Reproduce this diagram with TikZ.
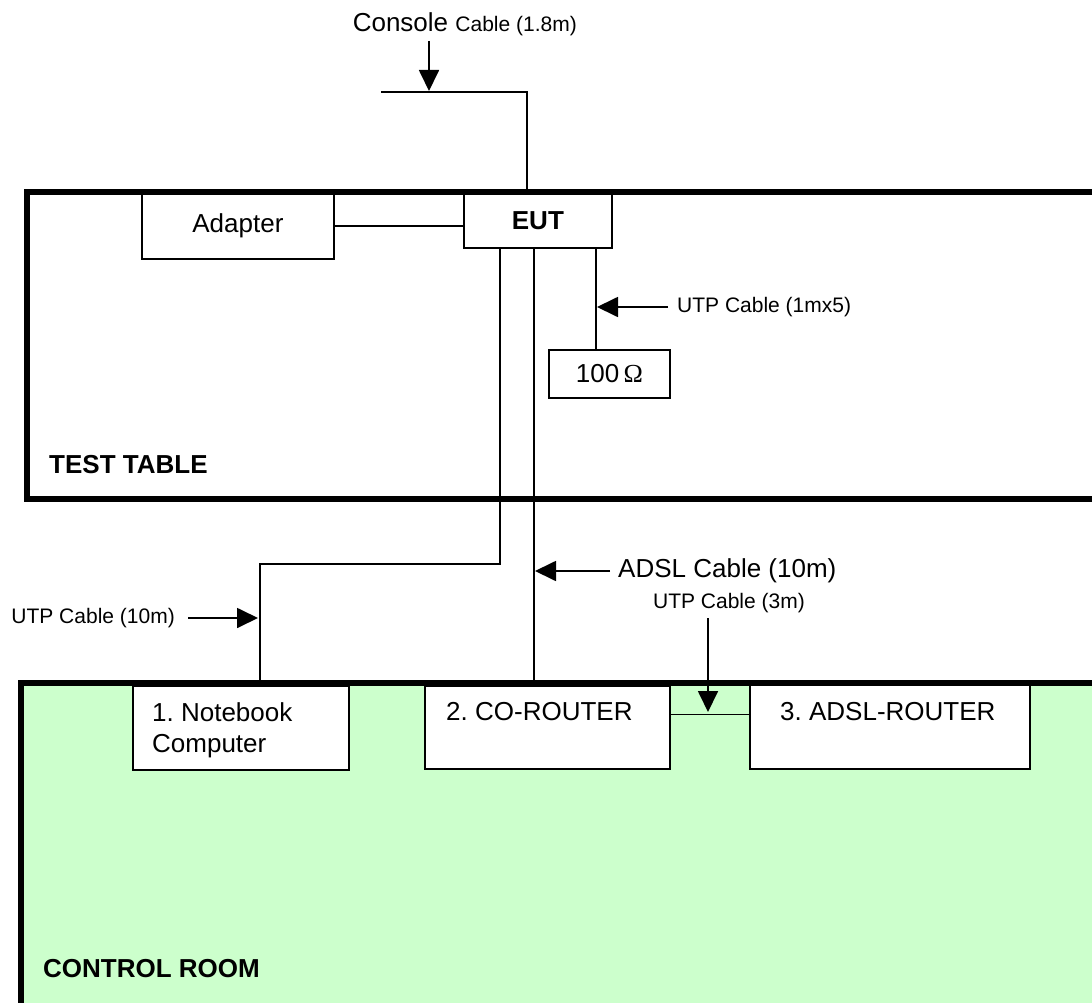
\documentclass[tikz,border=0pt]{standalone}
\usepackage{fontspec}
\setmainfont{Liberation Sans}
\newfontfamily\omegafont{Liberation Serif}
\usetikzlibrary{arrows.meta}
\definecolor{roomgreen}{HTML}{CCFFCC}
\frenchspacing

\newcommand{\labelbig}{\fontsize{26}{31}\selectfont}
\newcommand{\labelsmall}{\fontsize{21}{25}\selectfont}

\tikzset{
  box/.style={draw, fill=white, line width=1.8pt, inner sep=0pt, anchor=north west, font=\labelbig},
  cable/.style={line width=1.8pt},
  frame/.style={line width=5.5pt},
  ptr/.style={line width=1.8pt, -{Triangle[length=21pt,width=20pt]}},
  txt/.style={inner sep=0pt, font=\labelbig},
  lbl/.style={inner sep=0pt, font=\labelsmall},
}

\begin{document}
\begin{tikzpicture}[x=1pt, y=-1pt]
\useasboundingbox (0,0) rectangle (1092,1003);
\clip (0,0) rectangle (1092,1003);

% control room floor
\fill[roomgreen] (21,683) rectangle (1120,1020);

% equipment
\node[box, minimum width=192pt, minimum height=66pt] (adapter) at (141,192) {Adapter};
\node[box, minimum width=148pt, minimum height=55pt, font=\labelbig\bfseries] (eut) at (463,192) {EUT};
\node[box, minimum width=121pt, minimum height=48pt] (ohm) at (548,349) {100\,{\omegafont Ω}};
\node[box, minimum width=216pt, minimum height=84pt] (nb) at (132,685) {};
\node[box, minimum width=245pt, minimum height=83pt] (co) at (424,685) {};
\node[box, minimum width=280pt, minimum height=84pt] (adsl) at (749,684) {};

\node[txt, anchor=north west, align=left] (nbtxt) at ([xshift=20pt, yshift=-17pt]nb.north west) {1. Notebook\\Computer};
\node[txt, anchor=north west] (cotxt) at ([xshift=22pt, yshift=-17pt]co.north west) {2. CO-ROUTER};
\node[txt, anchor=north west] (adsltxt) at ([xshift=31pt, yshift=-18pt]adsl.north west) {3. ADSL-ROUTER};

% tables
\draw[frame] (27,192) rectangle (1120,499);
\draw[frame] (21,683) rectangle (1120,1020);
\node[txt, anchor=base west, font=\labelbig\bfseries] (testtable) at (49,473) {TEST TABLE};
\node[txt, anchor=base west, font=\labelbig\bfseries] (controlroom) at (43,977) {CONTROL ROOM};

% cables
\coordinate (consend) at (381,92);
\draw[cable] (consend) -| ([xshift=-11pt]eut.north);
\draw[cable] (adapter.east) -- (adapter.east -| eut.west);
\draw[cable] ([xshift=-38pt]eut.south) -- ++(0,315) -| ([xshift=19pt]nb.north);
\draw[cable] ([xshift=-4pt]eut.south) -- ([xshift=-4pt]eut.south |- co.north);
\draw[cable] ([xshift=58pt]eut.south) -- ([xshift=58pt]eut.south |- ohm.north);
\draw[cable] ([yshift=13pt]co.east) -- ([yshift=13pt]co.east -| adsl.west);

% cable labels
\node[txt, anchor=base east] (console) at (577,32) {Console {\labelsmall Cable (1.8m)}};
\coordinate (constail) at (429,41);
\coordinate (constip) at (429,91);
\draw[ptr] (constail) -- (constip);

\node[lbl, anchor=west] (utp5) at (677,307) {UTP Cable (1mx5)};
\coordinate (utp5tip) at (597,307);
\draw[ptr] ([xshift=-9pt]utp5.west) -- (utp5tip);

\node[txt, anchor=west] (adslcable) at (618,571) {ADSL Cable (10m)};
\coordinate (adsltip) at (535,571);
\draw[ptr] ([xshift=-8pt]adslcable.west) -- (adsltip);

\node[lbl, anchor=east] (utp10) at (175,618) {UTP Cable (10m)};
\coordinate (utp10tip) at (258,618);
\draw[ptr] ([xshift=13pt]utp10.east) -- (utp10tip);

\node[lbl] (utp3) at (729,603) {UTP Cable (3m)};
\coordinate (utp3tail) at (708,618);
\coordinate (utp3tip) at (708,712);
\draw[ptr] (utp3tail) -- (utp3tip);

\end{tikzpicture}
\end{document}
